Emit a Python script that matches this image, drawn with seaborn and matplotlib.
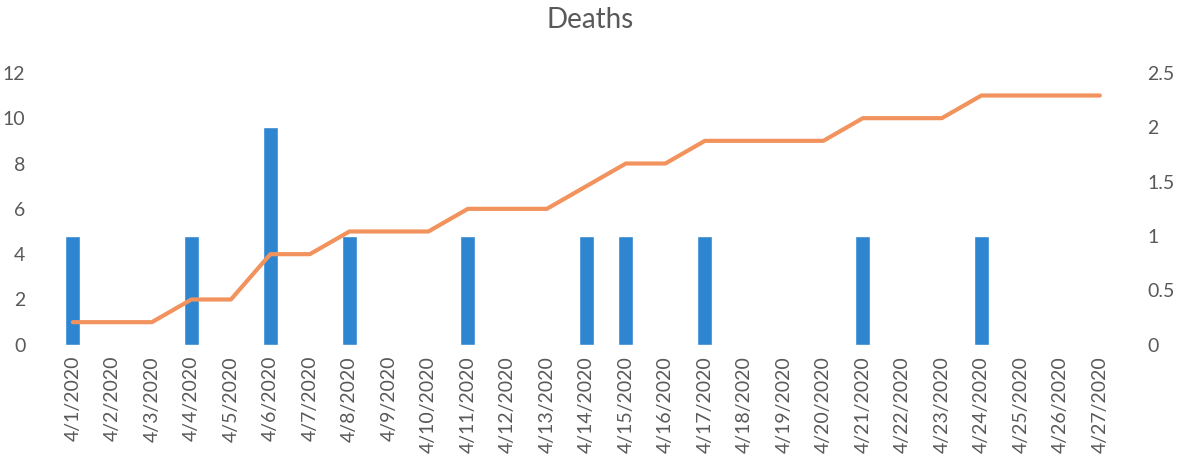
import pandas as pd
import seaborn as sns
import matplotlib.pyplot as plt

# Daily and cumulative deaths, April 2020
dates = [f"4/{d}/2020" for d in range(1, 28)]
daily_deaths = [1, 0, 0, 1, 0, 2, 0, 1, 0, 0, 1, 0, 0, 1, 1, 0, 1, 0, 0, 0, 1, 0, 0, 1, 0, 0, 0]
cumulative_deaths = [1, 1, 1, 2, 2, 4, 4, 5, 5, 5, 6, 6, 6, 7, 8, 8, 9, 9, 9, 9, 10, 10, 10, 11, 11, 11, 11]

df = pd.DataFrame({'date': dates, 'daily': daily_deaths, 'cumulative': cumulative_deaths})

sns.set_style('white')
plt.rcParams['font.family'] = ['Lato', 'DejaVu Sans']

text_color = '#595959'
bar_color = '#2E86D1'
line_color = '#F2935E'

fig = plt.figure(figsize=(11.81, 4.61), dpi=100)
ax = fig.add_axes([0.045, 0.252, 0.903, 0.59])
ax_bar = ax.twinx()

# bars on the secondary axis, behind the line
sns.barplot(data=df, x='date', y='daily', ax=ax_bar, color=bar_color,
            width=0.38, saturation=1)
sns.lineplot(data=df, x='date', y='cumulative', ax=ax, color=line_color,
             linewidth=3.0, sort=False)

ax_bar.set_zorder(0)
ax.set_zorder(1)
ax.patch.set_visible(False)

ax.set_xlim(-0.5, len(dates) - 0.5)
ax.set_ylim(0, 12)
ax.set_yticks(range(0, 13, 2))
ax_bar.set_ylim(0, 2.5)
ax_bar.set_yticks([0, 0.5, 1, 1.5, 2, 2.5])
ax_bar.set_yticklabels(['0', '0.5', '1', '1.5', '2', '2.5'])

for a in (ax, ax_bar):
    for s in a.spines.values():
        s.set_visible(False)
    a.set_xlabel('')
    a.set_ylabel('')
    a.tick_params(length=0, labelsize=14, colors=text_color, pad=8)

ax.tick_params(axis='y', pad=20)
ax_bar.tick_params(axis='y', pad=20)
ax.set_xticks(range(len(dates)))
ax.set_xticklabels(dates, rotation=90)
ax_bar.tick_params(axis='x', labelbottom=False)

fig.suptitle('Deaths', x=0.5, y=0.985, fontsize=20, color=text_color)

fig.savefig('out.png', dpi=100)
